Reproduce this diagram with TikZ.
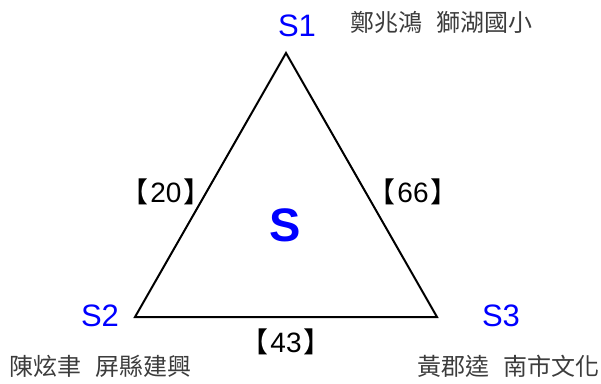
\documentclass[tikz,border=0pt]{standalone}
\usepackage{fontspec}
\setmainfont{Liberation Sans}
\newfontfamily\cjk{Noto Sans CJK TC}
\usetikzlibrary{positioning}
\definecolor{sblue}{RGB}{0,0,255}
\definecolor{namegray}{RGB}{60,60,60}
\tikzset{
  vertexlabel/.style={font=\fontsize{31}{34}\selectfont, text=sblue, inner sep=0pt},
  centerlabel/.style={font=\bfseries\fontsize{47}{50}\selectfont, text=sblue, inner sep=0pt},
  weightlabel/.style={font=\fontsize{28}{30}\selectfont, inner sep=0pt},
  memberlabel/.style={font=\cjk\fontsize{24}{26}\selectfont, text=namegray, inner sep=0pt, anchor=west},
  triline/.style={line width=2pt, line join=miter}
}

\begin{document}
\begin{tikzpicture}[x=1pt, y=-1pt]
  \useasboundingbox (0,0) rectangle (601,383);
  % corners of the triangle
  \coordinate (c1) at (286,53);
  \coordinate (c2) at (135,317);
  \coordinate (c3) at (437,317);
  \draw[triline] (c1) -- (c2) -- (c3) -- cycle;
  % vertex names
  \node[vertexlabel] (s1) at (297,26) {S1};
  \node[vertexlabel] (s2) at (100,316) {S2};
  \node[vertexlabel] (s3) at (501,316) {S3};
  \node[centerlabel] (s) at (285,225) {S};
  % edge weights
  \node[weightlabel] (w12) at (166,192) {{\cjk 【}\kern1.5pt 20\kern1.5pt{\cjk 】}};
  \node[weightlabel] (w13) at (413,192) {{\cjk 【}\kern1.5pt 66\kern1.5pt{\cjk 】}};
  \node[weightlabel] (w23) at (286,342) {{\cjk 【}\kern1.5pt 43\kern1.5pt{\cjk 】}};
  % members
  \node[memberlabel] (m1) at (350,22) {鄭兆鴻\hspace{14pt}獅湖國小};
  \node[memberlabel] (m2) at (9,366) {陳炫聿\hspace{14pt}屏縣建興};
  \node[memberlabel] (m3) at (417,366) {黃郡逵\hspace{14pt}南市文化};
\end{tikzpicture}
\end{document}
